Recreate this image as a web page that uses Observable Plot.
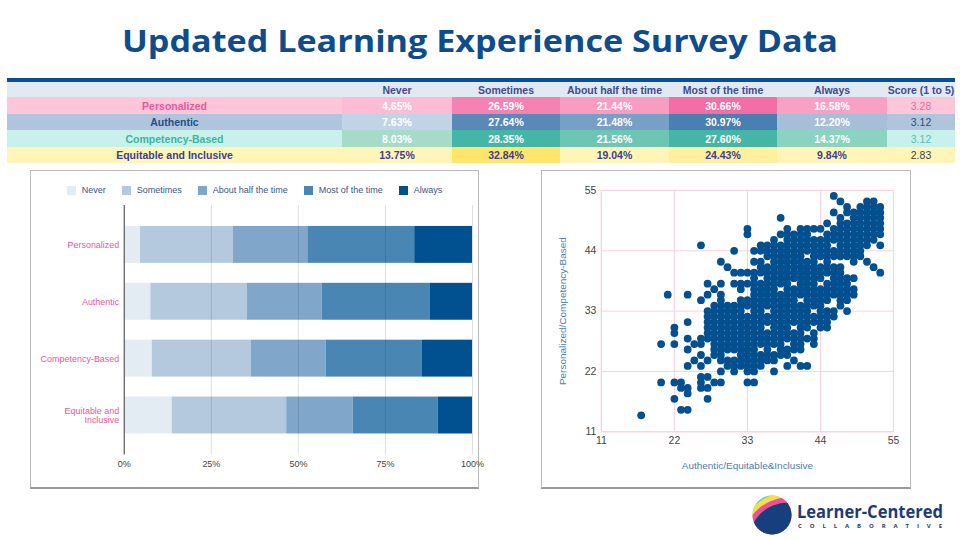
<!DOCTYPE html>
<html>
<head>
<meta charset="utf-8">
<script src="https://cdn.jsdelivr.net/npm/d3@7"></script>
<script src="https://cdn.jsdelivr.net/npm/@observablehq/plot@0.6"></script>
<style>
  html, body { margin: 0; padding: 0; }
  body { width: 960px; height: 540px; overflow: hidden; background: #fff; position: relative; font-family: "Liberation Sans", Arial, sans-serif; }
  #title { position: absolute; left: 0; top: 14px; }
  #tbl { position: absolute; left: 7px; top: 78px; border-collapse: collapse; table-layout: fixed; width: 948px; border-top: 4px solid #0b4f92; }
  #tbl td { padding: 0; text-align: center; font-weight: bold; font-size: 10.5px; overflow: hidden; white-space: nowrap; }
  .panel { position: absolute; top: 170px; height: 316px; border: 1px solid #b9b9b9; border-bottom: 2px solid #9a9a9a; background: #fff; box-sizing: content-box; }
  #barPanel { left: 30px; width: 447px; }
  #scatterPanel { left: 541px; width: 368px; }
  .plotwrap { position: absolute; }
  #legendWrap { position: absolute; left: 0; top: 14px; width: 447px; display: flex; justify-content: center; }
  .lg-swatches-wrap, .lg-swatches { min-height: 0 !important; margin: 0 !important; font: 9px "Liberation Sans", Arial, sans-serif !important; color: #3a5783 !important; justify-content: center; }
  .lg-swatch { margin-right: 16px !important; }
  .lg-swatch:last-child { margin-right: 0 !important; }
  .lg-swatch > svg { margin-right: 6px !important; }
  #logo { position: absolute; left: 744px; top: 490px; }
</style>
</head>
<body>
<svg id="title" width="960" height="56"><text id="titleText" x="480" y="38" text-anchor="middle" textLength="716" lengthAdjust="spacingAndGlyphs" font-family="Open Sans" font-weight="700" font-size="31" fill="#0f4c8c"></text></svg>
<table id="tbl"></table>
<div class="panel" id="barPanel"><div id="legendWrap"></div><div class="plotwrap" id="barWrap" style="left:-1px;top:29px"></div></div>
<div class="panel" id="scatterPanel"><div class="plotwrap" id="scatterWrap" style="left:-1px;top:-1px"></div></div>
<svg id="logo" width="216" height="50">
  <defs><clipPath id="ball"><circle cx="28" cy="25" r="19.5"/></clipPath></defs>
  <g clip-path="url(#ball)">
    <rect x="4" y="0" width="50" height="50" fill="#e4ecef"/>
    <circle cx="44" cy="52" r="55" fill="#5fd0c4"/>
    <circle cx="44" cy="52" r="49.5" fill="#f5df47"/>
    <circle cx="44" cy="52" r="44.5" fill="#ee4f97"/>
    <circle cx="44" cy="52" r="39.5" fill="#173f7d"/>
  </g>
  <text x="53" y="27.5" textLength="146" lengthAdjust="spacingAndGlyphs" font-family="Open Sans" font-weight="700" font-size="17" fill="#1d3b7b">Learner-Centered</text>
  <text x="54" y="37.5" textLength="144" lengthAdjust="spacing" font-family="Open Sans" font-weight="700" font-size="6" fill="#1d3b7b">COLLABORATIVE</text>
</svg>
<script>
// ---------------- DATA ----------------
const titleText = "Updated Learning Experience Survey Data";
const categories = ["Personalized", "Authentic", "Competency-Based", "Equitable and Inclusive"];
const answers = ["Never", "Sometimes", "About half the time", "Most of the time", "Always"];
const scoreHeader = "Score (1 to 5)";
const personalized = [4.65, 26.59, 21.44, 30.66, 16.58];
const authentic = [7.63, 27.64, 21.48, 30.97, 12.20];
const competencyBased = [8.03, 28.35, 21.56, 27.60, 14.37];
const equitableInclusive = [13.75, 32.84, 19.04, 24.43, 9.84];
const scores = [3.28, 3.12, 3.12, 2.83];
const percentTicks = [0, 0.25, 0.5, 0.75, 1];
const scatterTicks = [11, 22, 33, 44, 55];
const scatterXLabel = "Authentic/Equitable&Inclusive";
const scatterYLabel = "Personalized/Competency-Based";
// scatter: [x, [y values at that x]]
const scatterColumns = [
  [17, [14]],
  [20, [27, 20]],
  [21, [36]],
  [22, [30, 29, 27, 20, 17]],
  [23, [20, 19, 15]],
  [24, [36, 31, 28, 26, 23, 19, 18, 15]],
  [25, [27, 24]],
  [26, [45, 35, 28, 27, 25, 23, 21, 20, 19]],
  [27, [38, 36, 33, 32, 31, 30, 29, 28, 24, 21, 19, 17]],
  [28, [37, 34, 33, 32, 31, 30, 29, 28, 27, 26, 25, 20]],
  [29, [42, 38, 36, 35, 34, 33, 32, 31, 30, 29, 28, 27, 26, 25, 24, 22, 20]],
  [30, [41, 34, 33, 32, 31, 30, 29, 28, 27, 26, 24, 23]],
  [31, [44, 40, 38, 34, 33, 32, 31, 30, 29, 28, 27, 26, 24, 23, 22]],
  [32, [40, 38, 37, 35, 34, 33, 32, 31, 30, 29, 28, 27, 26, 25, 24, 23]],
  [33, [48, 47, 40, 38, 35, 34, 32, 31, 30, 29, 28, 27, 26, 25, 24, 23, 22, 20]],
  [34, [44, 42, 40, 39, 38, 37, 36, 35, 34, 33, 32, 31, 30, 29, 28, 27, 26, 25, 24, 23, 22, 20]],
  [35, [45, 44, 42, 41, 40, 38, 37, 36, 35, 34, 33, 32, 31, 30, 29, 28, 27, 25, 24, 23]],
  [36, [45, 44, 43, 41, 40, 39, 38, 37, 36, 35, 34, 32, 31, 29, 28, 27, 26, 25, 24]],
  [37, [46, 45, 44, 43, 42, 41, 40, 39, 38, 37, 36, 35, 34, 33, 32, 31, 30, 29, 28, 27, 25, 24, 22]],
  [38, [50, 47, 45, 44, 43, 42, 41, 40, 39, 38, 36, 35, 34, 33, 32, 31, 30, 29, 28, 27, 26, 25]],
  [39, [48, 47, 46, 45, 44, 43, 42, 41, 40, 39, 38, 37, 36, 35, 34, 33, 32, 31, 30, 29, 28, 26, 25, 23]],
  [40, [47, 46, 45, 44, 43, 42, 41, 40, 39, 37, 36, 35, 34, 33, 32, 31, 29, 28, 27, 26, 24]],
  [41, [48, 47, 46, 45, 44, 43, 42, 41, 40, 39, 38, 37, 36, 34, 33, 32, 31, 30, 29, 28, 27, 26, 23]],
  [42, [48, 47, 46, 45, 44, 42, 41, 40, 39, 38, 37, 36, 35, 34, 33, 32, 31, 30, 28, 23]],
  [43, [48, 46, 45, 44, 43, 42, 41, 40, 39, 38, 37, 36, 35, 34, 32, 31, 29, 28, 27]],
  [44, [48, 46, 45, 44, 43, 41, 40, 39, 37, 36, 35, 34, 33, 32, 31, 30]],
  [45, [49, 47, 46, 45, 44, 43, 42, 41, 40, 38, 37, 36, 35, 33, 32, 31, 30]],
  [46, [54, 51, 48, 47, 46, 44, 43, 41, 40, 39, 38, 37, 36, 33, 32]],
  [47, [53, 50, 49, 48, 47, 46, 45, 44, 43, 41, 40, 39, 38, 37, 36, 35, 34]],
  [48, [52, 51, 49, 48, 47, 46, 45, 44, 43, 39, 38, 37, 36, 35, 33]],
  [49, [51, 50, 49, 48, 47, 46, 45, 44, 43, 42, 39, 37, 36]],
  [50, [52, 51, 50, 49, 48, 47, 46, 45, 44, 43]],
  [51, [53, 52, 51, 50, 49, 48, 47, 46, 45, 42]],
  [52, [53, 52, 51, 50, 49, 48, 47, 46, 41]],
  [53, [52, 51, 50, 49, 48, 47, 45, 40]]
];

// ---------------- STYLES ----------------
const barColors = ["#e3ebf3", "#b4c9de", "#80a7c9", "#4a86b4", "#01508f"];
const headerStyle = { bg: "#e1e9f2", color: "#3f4a96" };
const rowStyles = [
  { labelBg: "#fec6d9", labelColor: "#f0569b", bgs: ["#fdbcd5", "#f681b3", "#f89cc2", "#f36ea7", "#f9a1c5", "#fec6d9"], colors: ["#fff", "#fff", "#fff", "#fff", "#fff", "#f26aa3"] },
  { labelBg: "#b0c4dc", labelColor: "#1f4f8b", bgs: ["#c1d3e5", "#5a89b8", "#77a0c6", "#497fb1", "#a6bed8", "#b0c4dc"], colors: ["#fff", "#fff", "#fff", "#fff", "#fff", "#2a5083"] },
  { labelBg: "#c7f1ea", labelColor: "#3fb59f", bgs: ["#a5dcc8", "#45b5a5", "#6dc6b3", "#45b5a5", "#8ad4bf", "#c7f1ea"], colors: ["#fff", "#fff", "#fff", "#fff", "#fff", "#55bfae"] },
  { labelBg: "#fff5b9", labelColor: "#3d3f8f", bgs: ["#fff5b9", "#fee66a", "#fff5b9", "#fff0a0", "#fff5b9", "#fff5b9"], colors: ["#3d3f8f", "#3d3f8f", "#3d3f8f", "#3d3f8f", "#3d3f8f", "#444"] }
];
const colWidths = [335, 110, 108, 109, 108, 110, 68];
const rowHeights = [17, 17, 16, 17, 16];

document.getElementById("titleText").textContent = titleText;

// ---------------- TABLE ----------------
const seriesValues = [personalized, authentic, competencyBased, equitableInclusive];
const tbl = document.getElementById("tbl");
const cg = document.createElement("colgroup");
colWidths.forEach(w => { const c = document.createElement("col"); c.style.width = w + "px"; cg.appendChild(c); });
tbl.appendChild(cg);
{
  const tr = document.createElement("tr");
  tr.style.height = rowHeights[0] + "px";
  ["", ...answers, scoreHeader].forEach(t => {
    const td = document.createElement("td");
    td.textContent = t; td.style.background = headerStyle.bg; td.style.color = headerStyle.color;
    tr.appendChild(td);
  });
  tbl.appendChild(tr);
}
categories.forEach((cat, i) => {
  const st = rowStyles[i];
  const tr = document.createElement("tr");
  tr.style.height = rowHeights[i + 1] + "px";
  const lab = document.createElement("td");
  lab.textContent = cat; lab.style.background = st.labelBg; lab.style.color = st.labelColor;
  tr.appendChild(lab);
  const cells = [...seriesValues[i].map(v => v.toFixed(2) + "%"), scores[i].toFixed(2)];
  cells.forEach((t, j) => {
    const td = document.createElement("td");
    td.textContent = t; td.style.background = st.bgs[j]; td.style.color = st.colors[j];
    if (j === 5) td.style.fontWeight = "normal";
    tr.appendChild(td);
  });
  tbl.appendChild(tr);
});

// ---------------- BAR CHART ----------------
const barRows = categories.flatMap((c, i) => answers.map((a, j) => ({ category: c, answer: a, value: seriesValues[i][j] })));

const legend = Plot.legend({
  color: { type: "ordinal", domain: answers, range: barColors },
  swatchSize: 9,
  className: "lg"
});
document.getElementById("legendWrap").appendChild(legend);

const bar = Plot.plot({
  width: 449, height: 276,
  marginLeft: 94, marginRight: 6, marginTop: 5, marginBottom: 21,
  style: { fontFamily: "Liberation Sans, Arial, sans-serif", fontSize: "9px", overflow: "visible", background: "transparent" },
  x: { domain: [0, 1] },
  y: { domain: categories, paddingInner: 0.35, paddingOuter: 0.34 },
  color: { type: "ordinal", domain: answers, range: barColors },
  marks: [
    Plot.barX(barRows, Plot.stackX({ offset: "normalize", order: answers, x: "value", y: "category", fill: "answer" })),
    Plot.ruleX(percentTicks.slice(1), { stroke: "#000", strokeOpacity: 0.13 }),
    Plot.ruleX([0], { stroke: "#6f6f6f", strokeWidth: 1.4 }),
    Plot.axisX({ ticks: percentTicks, tickFormat: d3.format(".0%"), tickSize: 0, tickPadding: 6, fill: "#444", label: null }),
    Plot.axisY({ tickSize: 0, tickPadding: 5, fill: "#f0559c", label: null,
      tickFormat: d => d === "Equitable and Inclusive" ? "Equitable and\nInclusive" : d })
  ]
});
document.getElementById("barWrap").appendChild(bar);

// ---------------- SCATTER ----------------
const points = scatterColumns.flatMap(([x, ys]) => ys.map(y => ({ x, y })));
const scatter = Plot.plot({
  width: 370, height: 318,
  marginLeft: 60, marginRight: 17, marginTop: 20, marginBottom: 56,
  style: { fontFamily: "Liberation Sans, Arial, sans-serif", fontSize: "10.5px", overflow: "visible", background: "transparent" },
  x: { domain: [11, 55] },
  y: { domain: [11, 55] },
  marks: [
    Plot.gridX({ ticks: scatterTicks, stroke: "#fbd0df", strokeOpacity: 1 }),
    Plot.gridY({ ticks: scatterTicks, stroke: "#fbd0df", strokeOpacity: 1 }),
    Plot.frame({ stroke: "#fbd0df" }),
    Plot.dot(points, { x: "x", y: "y", r: 3.9, fill: "#02508f" }),
    Plot.axisX({ ticks: scatterTicks, tickSize: 0, tickPadding: 5, fill: "#444", label: null }),
    Plot.axisY({ ticks: scatterTicks, tickSize: 0, tickPadding: 5, fill: "#444", label: null }),
    Plot.text([scatterXLabel], { text: d => d, frameAnchor: "bottom", dy: 34, lineAnchor: "middle", textAnchor: "middle", fill: "#4a7db5", fontSize: 10 }),
    Plot.text([scatterYLabel], { text: d => d, frameAnchor: "left", dx: -39, rotate: -90, textAnchor: "middle", lineAnchor: "middle", fill: "#4a7db5", fontSize: 10 })
  ]
});
document.getElementById("scatterWrap").appendChild(scatter);
</script>
</body>
</html>
